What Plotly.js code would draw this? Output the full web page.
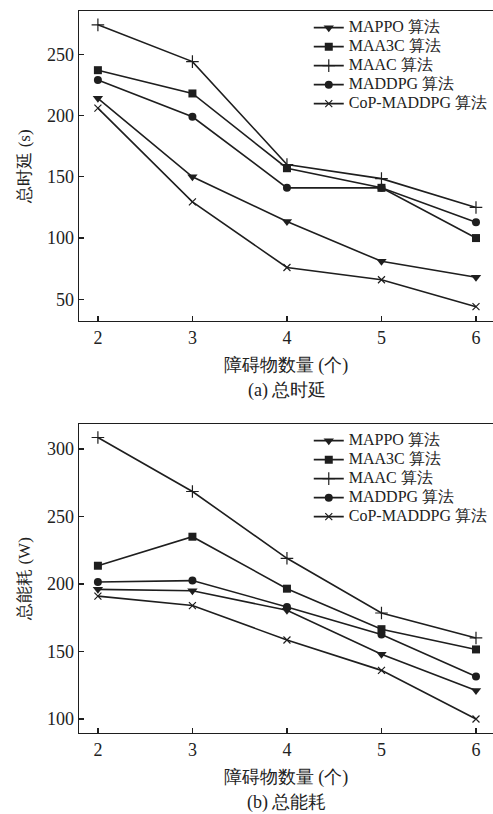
<!DOCTYPE html>
<html>
<head>
<meta charset="utf-8">
<script src="https://cdn.plot.ly/plotly-3.0.1.min.js"></script>
<style>html,body{margin:0;padding:0;background:#fff;}#chart{width:493px;height:814px;}</style>
</head>
<body>
<div id="chart"></div>
<script>
const obstacles = [2, 3, 4, 5, 6];
const seriesNames = ["MAPPO 算法", "MAA3C 算法", "MAAC 算法", "MADDPG 算法", "CoP-MADDPG 算法"];

// (a) total delay (s)
const delayMAPPO  = [214, 150, 113.5, 81, 68];
const delayMAA3C  = [237, 218, 157, 141, 100];
const delayMAAC   = [274, 244, 160, 148.5, 125];
const delayMADDPG = [229, 199, 141, 141, 113];
const delayCoP    = [206, 129.5, 76, 66, 44];

// (b) total energy (W)
const energyMAPPO  = [196, 195, 180.5, 148, 121];
const energyMAA3C  = [213.5, 235, 196.5, 166.5, 151.5];
const energyMAAC   = [308.5, 268.5, 219, 178.5, 160];
const energyMADDPG = [201.5, 202.5, 183, 162.5, 131.5];
const energyCoP    = [191, 184, 158.5, 136, 100];

const delayTickVals = [50, 100, 150, 200, 250];
const energyTickVals = [100, 150, 200, 250, 300];

const FONT = "Liberation Serif";
const LC = "#1e1e1e";
const TC = "#222";
const markerStyles = [
  {symbol: "triangle-down", size: 9},
  {symbol: "square", size: 8},
  {symbol: "cross-thin", size: 9, line: {width: 1.2, color: LC}},
  {symbol: "circle", size: 8},
  {symbol: "x-thin", size: 7, line: {width: 1.2, color: LC}}
];

function mk(y, i, xa, ya, leg) {
  const m = Object.assign({color: LC}, markerStyles[i]);
  if (!m.line) m.line = {width: 0, color: LC};
  return {
    x: obstacles, y: y,
    name: '<span style="font-size:16px">' + seriesNames[i] + '</span>',
    type: "scatter", mode: "lines+markers",
    xaxis: xa, yaxis: ya, legend: leg,
    line: {color: LC, width: 1.6}, marker: m
  };
}

const delays = [delayMAPPO, delayMAA3C, delayMAAC, delayMADDPG, delayCoP];
const energies = [energyMAPPO, energyMAA3C, energyMAAC, energyMADDPG, energyCoP];
const traces = [];
delays.forEach((d, i) => traces.push(mk(d, i, "x", "y", "legend")));
energies.forEach((d, i) => traces.push(mk(d, i, "x2", "y2", "legend2")));

const axCommon = {
  showline: true, linecolor: LC, linewidth: 1.3, ticks: "inside", ticklen: 5,
  tickcolor: LC, tickwidth: 1.2, showgrid: false, zeroline: false,
  tickfont: {family: FONT, size: 18, color: TC}
};

const legCommon = {
  font: {family: FONT, size: 11, color: TC}, bgcolor: "rgba(0,0,0,0)",
  borderwidth: 0, xanchor: "left", yanchor: "top", itemwidth: 30, tracegroupgap: 0
};

const layout = {
  width: 493, height: 814,
  margin: {l: 79, r: 0, t: 11, b: 81},
  paper_bgcolor: "#fff", plot_bgcolor: "rgba(0,0,0,0)",
  font: {family: FONT, color: TC},
  xaxis: Object.assign({}, axCommon, {
    domain: [0, 1], anchor: "y", range: [1.8, 6.18], tickvals: obstacles, mirror: true,
    title: {text: "障碍物数量 (个)", font: {family: FONT, size: 18, color: TC}, standoff: 11}
  }),
  yaxis: Object.assign({}, axCommon, {
    domain: [0.5706, 1], anchor: "x", range: [32.3, 285.3], tickvals: delayTickVals,
    title: {text: "总时延 (s)", font: {family: FONT, size: 17, color: TC}, standoff: 12}
  }),
  xaxis2: Object.assign({}, axCommon, {
    domain: [0, 1], anchor: "y2", range: [1.8, 6.18], tickvals: obstacles, mirror: true,
    title: {text: "障碍物数量 (个)", font: {family: FONT, size: 18, color: TC}, standoff: 11}
  }),
  yaxis2: Object.assign({}, axCommon, {
    domain: [0, 0.428], anchor: "x2", range: [89.6, 318.5], tickvals: energyTickVals,
    title: {text: "总能耗 (W)", font: {family: FONT, size: 17, color: TC}, standoff: 12}
  }),
  legend: Object.assign({}, legCommon, {x: 0.555, y: 0.997}),
  legend2: Object.assign({}, legCommon, {x: 0.555, y: 0.425}),
  annotations: [
    {text: "(a) 总时延", xref: "paper", yref: "paper", x: 0.503, y: (814 - 81 - 390) / 722, xanchor: "center", yanchor: "middle", showarrow: false, font: {family: FONT, size: 18, color: TC}},
    {text: "(b) 总能耗", xref: "paper", yref: "paper", x: 0.503, y: (814 - 81 - 802) / 722, xanchor: "center", yanchor: "middle", showarrow: false, font: {family: FONT, size: 18, color: TC}}
  ],
  showlegend: true
};

Plotly.newPlot("chart", traces, layout, {displayModeBar: false, staticPlot: true});
</script>
</body>
</html>
